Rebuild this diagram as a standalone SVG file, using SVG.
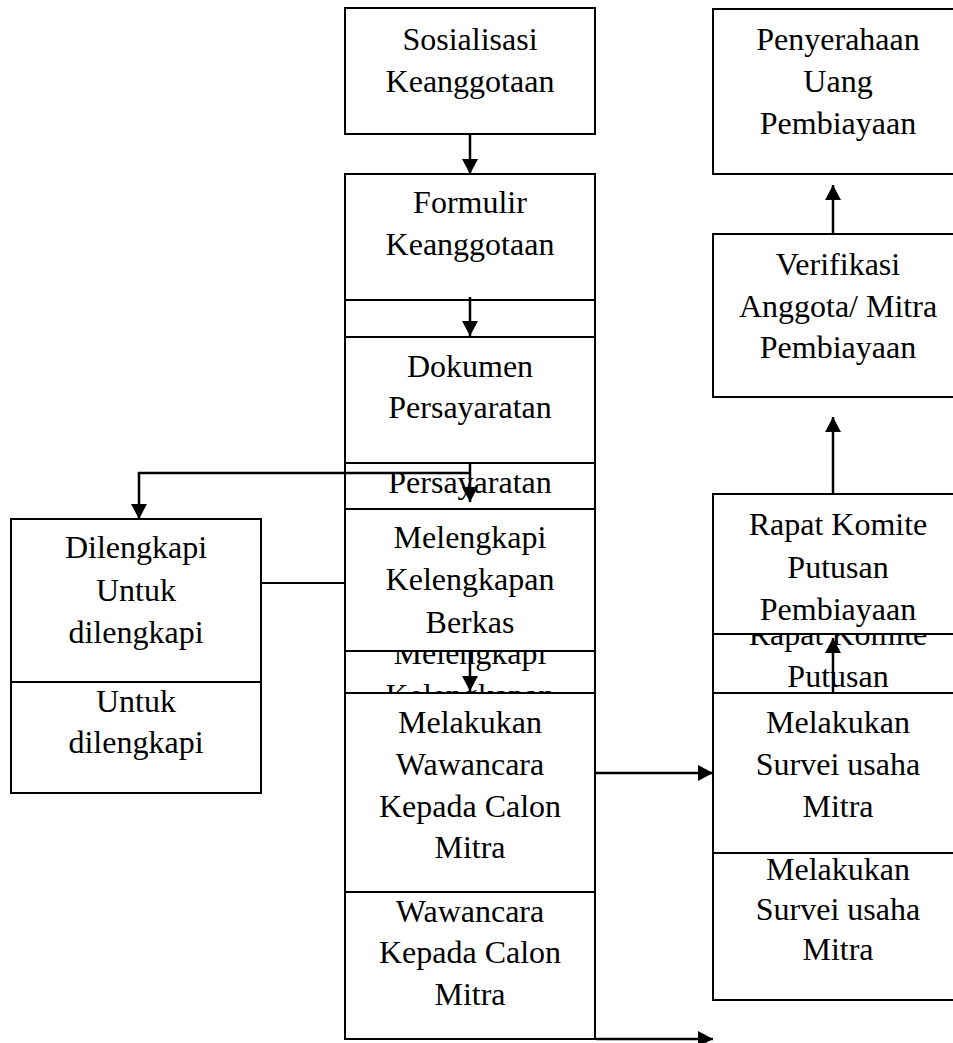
<svg xmlns="http://www.w3.org/2000/svg" width="953" height="1043" viewBox="0 0 953 1043">
<style>
.box{fill:#fff;stroke:#000;stroke-width:2}
.t{font-family:"Liberation Serif","Times New Roman",serif;font-size:32px;fill:#000;text-anchor:middle}
.c{fill:none;stroke:#000;stroke-width:2.5}
</style>
<defs>
<marker id="ah" markerUnits="userSpaceOnUse" markerWidth="15" markerHeight="16" refX="15" refY="8" orient="auto">
<path d="M0,0 L15,8 L0,16 z" fill="#000"/>
</marker>
<clipPath id="clipMel"><rect x="345" y="651" width="250" height="42"/></clipPath>
<clipPath id="clipRap"><rect x="713" y="634" width="250" height="59"/></clipPath>
</defs>
<rect width="953" height="1043" fill="#fff"/>

<g id="n-sosialisasi">
<rect class="box" x="345" y="8" width="250" height="126"/>
<text class="t" x="470" y="50">Sosialisasi</text>
<text class="t" x="470" y="92">Keanggotaan</text>
</g>

<g id="n-formulir">
<rect class="box" x="345" y="174" width="250" height="126"/>
<rect class="box" x="345" y="300" width="250" height="37"/>
<text class="t" x="470" y="213">Formulir</text>
<text class="t" x="470" y="255">Keanggotaan</text>
</g>

<g id="n-dokumen">
<rect class="box" x="345" y="337" width="250" height="126"/>
<rect class="box" x="345" y="463" width="250" height="46"/>
<text class="t" x="470" y="377">Dokumen</text>
<text class="t" x="470" y="418">Persayaratan</text>
<text class="t" x="470" y="493">Persayaratan</text>
</g>

<g id="n-melengkapi">
<rect class="box" x="345" y="509" width="250" height="142"/>
<rect class="box" x="345" y="651" width="250" height="42"/>
<text class="t" x="470" y="548">Melengkapi</text>
<text class="t" x="470" y="590">Kelengkapan</text>
<text class="t" x="470" y="633">Berkas</text>
<g clip-path="url(#clipMel)">
<text class="t" x="470" y="664">Melengkapi</text>
<text class="t" x="470" y="706">Kelengkapan</text>
</g>
</g>

<g id="n-wawancara">
<rect class="box" x="345" y="693" width="250" height="199"/>
<rect class="box" x="345" y="892" width="250" height="147"/>
<text class="t" x="470" y="733">Melakukan</text>
<text class="t" x="470" y="775">Wawancara</text>
<text class="t" x="470" y="817">Kepada Calon</text>
<text class="t" x="470" y="858">Mitra</text>
<text class="t" x="470" y="922">Wawancara</text>
<text class="t" x="470" y="963">Kepada Calon</text>
<text class="t" x="470" y="1005">Mitra</text>
</g>

<g id="n-dilengkapi">
<rect class="box" x="11" y="519" width="250" height="163"/>
<rect class="box" x="11" y="682" width="250" height="111"/>
<text class="t" x="136" y="558">Dilengkapi</text>
<text class="t" x="136" y="601">Untuk</text>
<text class="t" x="136" y="643">dilengkapi</text>
<text class="t" x="136" y="712">Untuk</text>
<text class="t" x="136" y="753">dilengkapi</text>
</g>

<g id="n-penyerahaan">
<rect class="box" x="713" y="9" width="250" height="165"/>
<text class="t" x="838" y="50">Penyerahaan</text>
<text class="t" x="838" y="92">Uang</text>
<text class="t" x="838" y="134">Pembiayaan</text>
</g>

<g id="n-verifikasi">
<rect class="box" x="713" y="234" width="250" height="163"/>
<text class="t" x="838" y="275">Verifikasi</text>
<text class="t" x="838" y="317">Anggota/ Mitra</text>
<text class="t" x="838" y="358">Pembiayaan</text>
</g>

<g id="n-rapat">
<rect class="box" x="713" y="494" width="250" height="140"/>
<rect class="box" x="713" y="634" width="250" height="59"/>
<text class="t" x="838" y="535">Rapat Komite</text>
<text class="t" x="838" y="578">Putusan</text>
<text class="t" x="838" y="620">Pembiayaan</text>
<g clip-path="url(#clipRap)">
<text class="t" x="838" y="645">Rapat Komite</text>
<text class="t" x="838" y="687">Putusan</text>
</g>
</g>

<g id="n-survei">
<rect class="box" x="713" y="693" width="250" height="160"/>
<rect class="box" x="713" y="853" width="250" height="147"/>
<text class="t" x="838" y="733">Melakukan</text>
<text class="t" x="838" y="775">Survei usaha</text>
<text class="t" x="838" y="817">Mitra</text>
<text class="t" x="838" y="880">Melakukan</text>
<text class="t" x="838" y="920">Survei usaha</text>
<text class="t" x="838" y="960">Mitra</text>
</g>

<g id="connectors">
<line class="c" x1="470" y1="134" x2="470" y2="174" marker-end="url(#ah)"/>
<line class="c" x1="470" y1="297" x2="470" y2="336" marker-end="url(#ah)"/>
<line class="c" x1="470" y1="463" x2="470" y2="502" marker-end="url(#ah)"/>
<polyline class="c" points="470,473 139,473 139,519" marker-end="url(#ah)"/>
<line class="c" x1="261" y1="583" x2="345" y2="583" style="stroke-width:2"/>
<line class="c" x1="470" y1="651" x2="470" y2="691" marker-end="url(#ah)"/>
<line class="c" x1="596" y1="773" x2="713" y2="773" marker-end="url(#ah)"/>
<line class="c" x1="596" y1="1039" x2="713" y2="1039" marker-end="url(#ah)"/>
<line class="c" x1="833" y1="693" x2="833" y2="638" marker-end="url(#ah)"/>
<line class="c" x1="833" y1="494" x2="833" y2="417" marker-end="url(#ah)"/>
<line class="c" x1="833" y1="234" x2="833" y2="185" marker-end="url(#ah)"/>
</g>
</svg>
